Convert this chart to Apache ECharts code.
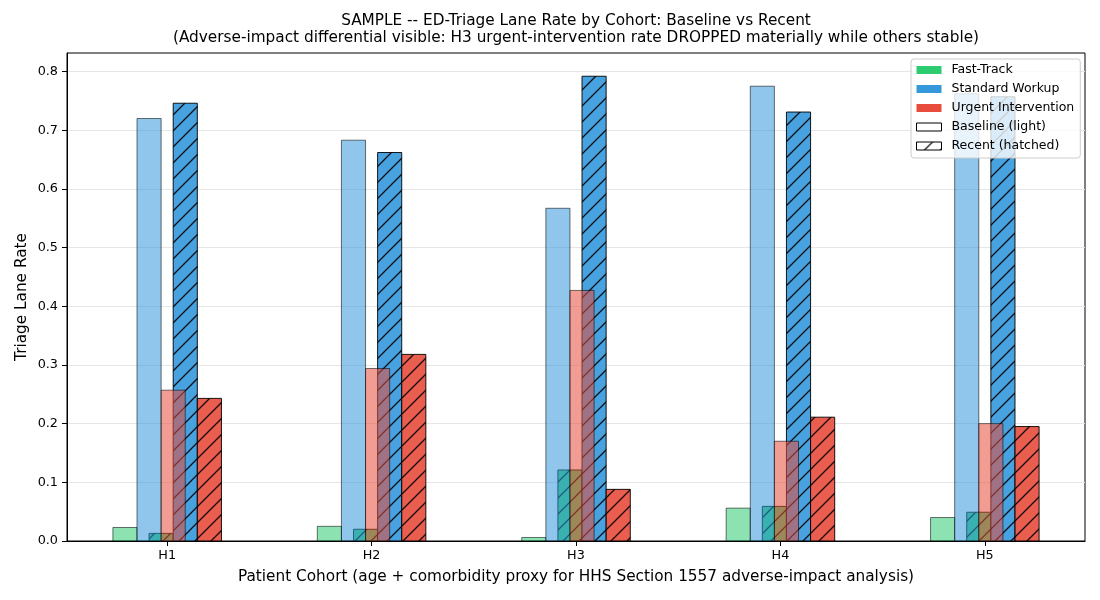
<!DOCTYPE html>
<html>
<head>
<meta charset="utf-8">
<script src="https://cdn.jsdelivr.net/npm/echarts@6/dist/echarts.min.js"></script>
<style>
  html, body { margin: 0; padding: 0; background: #fff; }
  #chart { width: 1100px; height: 600px; }
</style>
</head>
<body>
<div id="chart"></div>
<script>
const cohorts = ['H1', 'H2', 'H3', 'H4', 'H5'];
const lanes = ['Fast-Track', 'Standard Workup', 'Urgent Intervention'];
const laneColors = ['#2ecc71', '#3498db', '#e74c3c'];

// baseline period (light bars)
const baselineFast = [0.023, 0.025, 0.006, 0.056, 0.040];
const baselineStandard = [0.720, 0.683, 0.567, 0.775, 0.762];
const baselineUrgent = [0.257, 0.294, 0.427, 0.170, 0.200];
// recent period (hatched bars)
const recentFast = [0.013, 0.020, 0.121, 0.059, 0.049];
const recentStandard = [0.746, 0.662, 0.792, 0.731, 0.757];
const recentUrgent = [0.243, 0.318, 0.088, 0.211, 0.195];

const yTicks = [0, 0.1, 0.2, 0.3, 0.4, 0.5, 0.6, 0.7, 0.8];
const xTicks = [0, 1, 2, 3, 4];

const font = 'DejaVu Sans';
const barW = 0.118;

function hatchTile(bg) {
    const s = 16;
    const c = document.createElement('canvas');
    c.width = s;
    c.height = s;
    const ctx = c.getContext('2d');
    if (bg) {
        ctx.fillStyle = bg;
        ctx.fillRect(0, 0, s, s);
    }
    ctx.strokeStyle = 'rgba(0,0,0,0.9)';
    ctx.lineWidth = 1.3;
    ctx.beginPath();
    ctx.moveTo(-2, s + 2); ctx.lineTo(s + 2, -2);
    ctx.moveTo(-2, 2); ctx.lineTo(2, -2);
    ctx.moveTo(s - 2, s + 2); ctx.lineTo(s + 2, s - 2);
    ctx.stroke();
    return c;
}
const hatchBars = hatchTile(null);
const hatchLegend = hatchTile('#ffffff');

function rgba(hex, a) {
    const n = parseInt(hex.slice(1), 16);
    return 'rgba(' + (n >> 16) + ',' + ((n >> 8) & 255) + ',' + (n & 255) + ',' + a + ')';
}

function barSeries(name, values, color, offset, recent) {
    const fill = recent ? rgba(color, 0.9) : rgba(color, 0.55);
    const stroke = recent ? 'rgba(0,0,0,0.9)' : 'rgba(0,0,0,0.55)';
    return {
        type: 'custom',
        name: name,
        data: values.map((v, i) => [i, v]),
        renderItem: function (params, api) {
            const i = api.value(0);
            const tl = api.coord([i + offset - barW / 2, api.value(1)]);
            const br = api.coord([i + offset + barW / 2, 0]);
            const shape = { x: tl[0], y: tl[1], width: br[0] - tl[0], height: br[1] - tl[1] };
            const children = [{ type: 'rect', shape: shape, style: { fill: fill } }];
            if (recent) {
                children.push({ type: 'rect', shape: shape, style: { fill: { image: hatchBars, repeat: 'repeat' } } });
            }
            children.push({ type: 'rect', shape: shape, style: { fill: null, stroke: stroke, lineWidth: 1 } });
            return { type: 'group', children: children };
        }
    };
}

const chart = echarts.init(document.getElementById('chart'));

const option = {
    animation: false,
    title: {
        text: 'SAMPLE -- ED-Triage Lane Rate by Cohort: Baseline vs Recent\n(Adverse-impact differential visible: H3 urgent-intervention rate DROPPED materially while others stable)',
        left: 576,
        top: 13,
        padding: 0,
        textAlign: 'center',
        textStyle: { fontFamily: font, fontSize: 15.3, fontWeight: 'normal', color: '#000', lineHeight: 17 }
    },
    grid: {
        left: 67, right: 15, top: 53, bottom: 59,
        show: true, borderColor: '#000', borderWidth: 1,
        outerBoundsMode: 'none'
    },
    legend: {
        orient: 'vertical',
        left: 911, top: 59,
        padding: [4, 6, 5, 5],
        itemWidth: 25, itemHeight: 8, itemGap: 5,
        backgroundColor: 'rgba(255,255,255,0.8)',
        borderColor: '#cccccc', borderWidth: 1, borderRadius: 3,
        selectedMode: false,
        textStyle: { fontFamily: font, fontSize: 12.5, color: '#000', lineHeight: 14, padding: [0, 0, 0, 5] },
        data: [
            { name: lanes[0], icon: 'rect', itemStyle: { color: laneColors[0], borderWidth: 0 } },
            { name: lanes[1], icon: 'rect', itemStyle: { color: laneColors[1], borderWidth: 0 } },
            { name: lanes[2], icon: 'rect', itemStyle: { color: laneColors[2], borderWidth: 0 } },
            { name: 'Baseline (light)', icon: 'rect', itemStyle: { color: '#ffffff', borderColor: '#000', borderWidth: 1 } },
            { name: 'Recent (hatched)', icon: 'rect', itemStyle: { color: { image: hatchLegend, repeat: 'repeat' }, borderColor: '#000', borderWidth: 1 } }
        ]
    },
    xAxis: {
        type: 'value',
        min: -0.49,
        max: 4.49,
        name: 'Patient Cohort (age + comorbidity proxy for HHS Section 1557 adverse-impact analysis)',
        nameLocation: 'middle',
        nameGap: 29,
        nameMoveOverlap: false,
        nameTextStyle: { fontFamily: font, fontSize: 15.3, color: '#000' },
        axisLine: { onZero: false, lineStyle: { color: '#000', width: 1 } },
        axisTick: { length: 5, lineStyle: { color: '#000' }, customValues: xTicks },
        axisLabel: {
            customValues: xTicks,
            formatter: v => cohorts[Math.round(v)],
            fontFamily: font, fontSize: 12.8, color: '#000', margin: 8
        },
        splitLine: { show: false }
    },
    yAxis: {
        type: 'value',
        min: 0,
        max: 0.8316,
        interval: 0.1,
        name: 'Triage Lane Rate',
        nameLocation: 'middle',
        nameGap: 37,
        nameMoveOverlap: false,
        nameTextStyle: { fontFamily: font, fontSize: 15.3, color: '#000' },
        axisLine: { show: true, onZero: false, lineStyle: { color: '#000', width: 1 } },
        axisTick: { show: true, length: 5, lineStyle: { color: '#000' }, customValues: yTicks },
        axisLabel: {
            customValues: yTicks,
            formatter: v => v.toFixed(1),
            fontFamily: font, fontSize: 12.8, color: '#000', margin: 9
        },
        splitLine: { show: true, lineStyle: { color: '#e6e6e6', width: 1 } }
    },
    series: [
        barSeries(lanes[0], recentFast, laneColors[0], -0.25 * barW, true),
        barSeries(lanes[1], recentStandard, laneColors[1], 0.75 * barW, true),
        barSeries(lanes[2], recentUrgent, laneColors[2], 1.75 * barW, true),
        barSeries(lanes[0], baselineFast, laneColors[0], -1.75 * barW, false),
        barSeries(lanes[1], baselineStandard, laneColors[1], -0.75 * barW, false),
        barSeries(lanes[2], baselineUrgent, laneColors[2], 0.25 * barW, false),
        { type: 'custom', name: 'Baseline (light)', data: [], renderItem: () => null },
        { type: 'custom', name: 'Recent (hatched)', data: [], renderItem: () => null }
    ]
};

chart.setOption(option);
</script>
</body>
</html>
